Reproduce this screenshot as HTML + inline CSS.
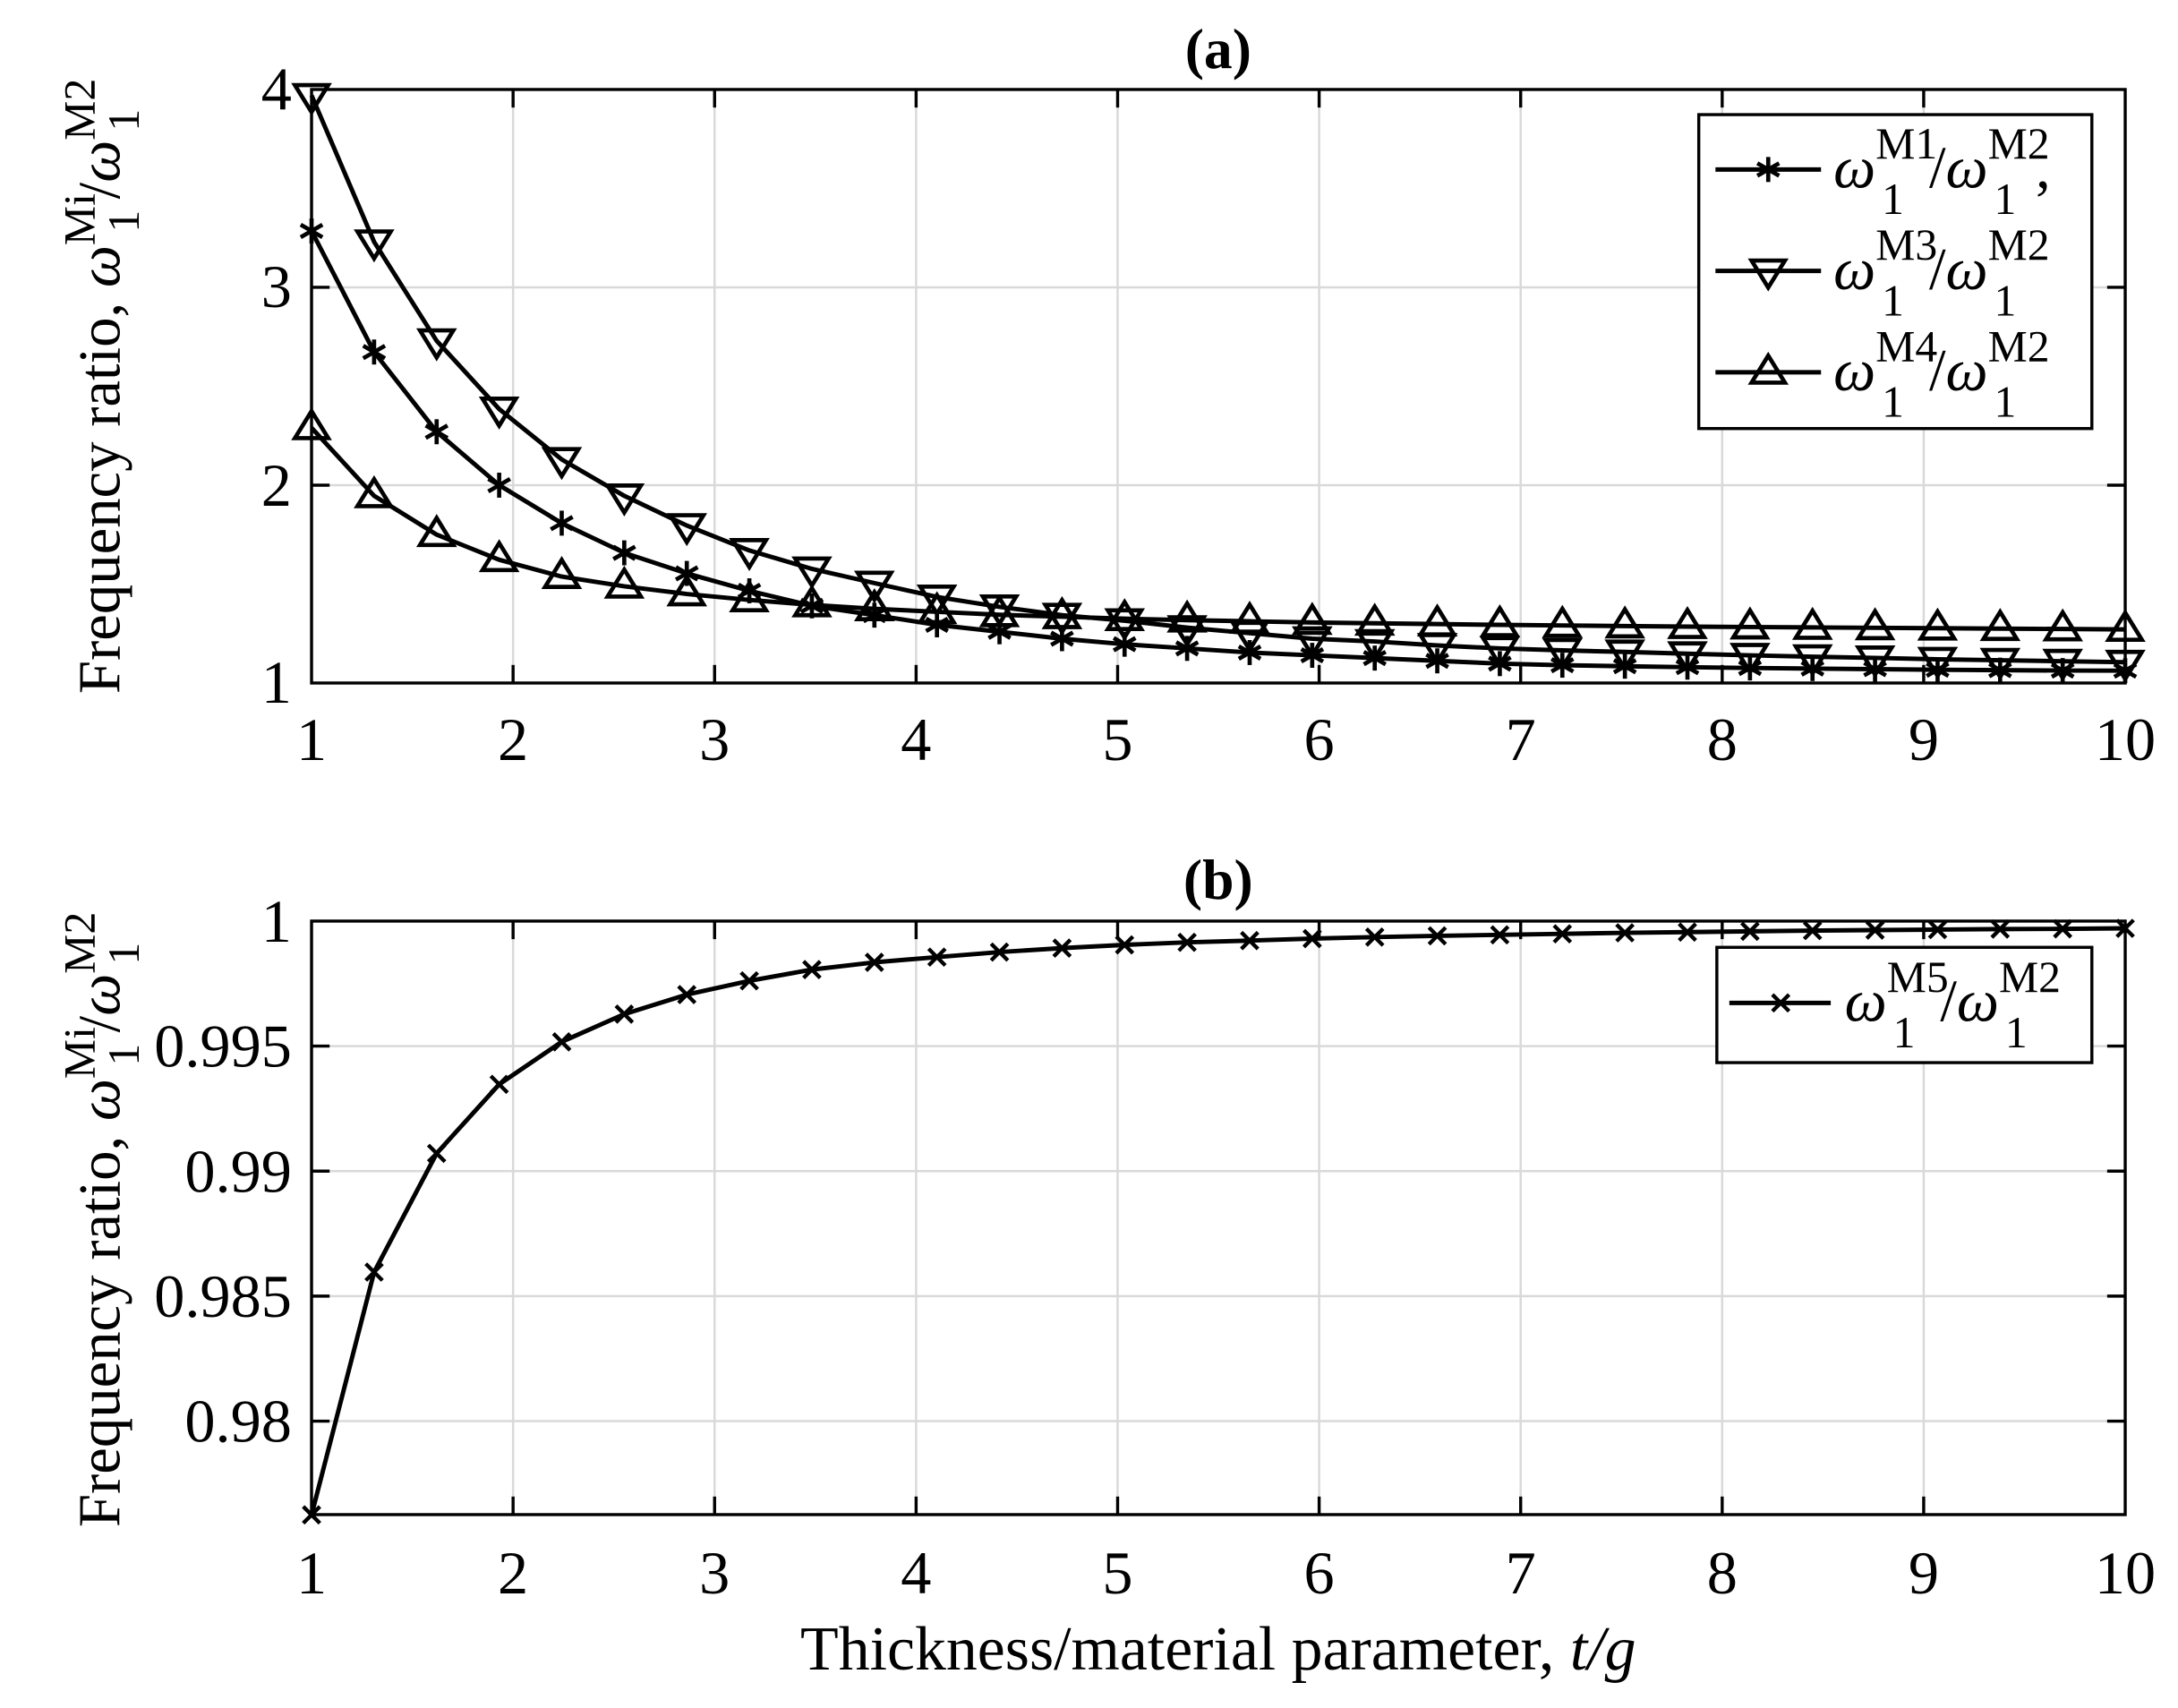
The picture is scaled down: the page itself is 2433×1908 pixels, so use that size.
<!DOCTYPE html>
<html><head><meta charset="utf-8"><style>
html,body{margin:0;padding:0;background:#fff;}
svg{display:block;}
text{font-family:"Liberation Serif",serif;fill:#000;}
</style></head><body>
<svg id="s" width="2433" height="1908" viewBox="0 0 1568 1229.6" xmlns="http://www.w3.org/2000/svg">
<g id="grid" stroke="#d9d9d9" stroke-width="1.6"></g>
<g id="axes" fill="none" stroke="#000" stroke-width="2.2"></g>
<g id="data"></g>
<text x="877" y="49" font-size="41" font-weight="bold" text-anchor="middle">(a)</text>
<text x="877" y="647" font-size="41" font-weight="bold" text-anchor="middle">(b)</text>
<g font-size="44" text-anchor="end">
<text x="210" y="79">4</text>
<text x="210" y="221">3</text>
<text x="210" y="364">2</text>
<text x="210" y="506">1</text>
<text x="210" y="678">1</text>
<text x="210" y="768">0.995</text>
<text x="210" y="858">0.99</text>
<text x="210" y="948">0.985</text>
<text x="210" y="1038">0.98</text>
</g>
<g id="xl" font-size="44" text-anchor="middle"></g>
<text x="877" y="1202" font-size="45" text-anchor="middle">Thickness/material parameter, <tspan font-style="italic">t/g</tspan></text>
<g transform="translate(86,278) rotate(-90)">
<text x="0" y="0" font-size="43" text-anchor="middle">Frequency ratio, <tspan font-style="italic">ω</tspan><tspan font-size="32" dy="-18">Mi</tspan><tspan font-size="32" dx="-28" dy="32">1</tspan><tspan dy="-14" dx="8">/</tspan><tspan font-style="italic">ω</tspan><tspan font-size="32" dy="-18">M2</tspan><tspan font-size="32" dx="-38" dy="32">1</tspan></text>
</g>
<g transform="translate(86,878) rotate(-90)">
<text x="0" y="0" font-size="43" text-anchor="middle">Frequency ratio, <tspan font-style="italic">ω</tspan><tspan font-size="32" dy="-18">Mi</tspan><tspan font-size="32" dx="-28" dy="32">1</tspan><tspan dy="-14" dx="8">/</tspan><tspan font-style="italic">ω</tspan><tspan font-size="32" dy="-18">M2</tspan><tspan font-size="32" dx="-38" dy="32">1</tspan></text>
</g>
<rect x="1223" y="82.5" width="283" height="226" fill="#fff" stroke="#000" stroke-width="2.2"/>
<rect x="1236" y="682" width="270" height="83" fill="#fff" stroke="#000" stroke-width="2.2"/>
<g id="leg"></g>
<g font-size="43">
<text x="1320" y="135"><tspan font-style="italic">ω</tspan><tspan font-size="32" dy="-21">M1</tspan><tspan font-size="32" dx="-40" dy="40">1</tspan><tspan dy="-19" dx="18">/</tspan><tspan font-style="italic">ω</tspan><tspan font-size="32" dy="-21">M2</tspan><tspan font-size="32" dx="-40" dy="40">1</tspan><tspan dy="-19" dx="14">,</tspan></text>
<text x="1320" y="208"><tspan font-style="italic">ω</tspan><tspan font-size="32" dy="-21">M3</tspan><tspan font-size="32" dx="-40" dy="40">1</tspan><tspan dy="-19" dx="18">/</tspan><tspan font-style="italic">ω</tspan><tspan font-size="32" dy="-21">M2</tspan><tspan font-size="32" dx="-40" dy="40">1</tspan></text>
<text x="1320" y="281"><tspan font-style="italic">ω</tspan><tspan font-size="32" dy="-21">M4</tspan><tspan font-size="32" dx="-40" dy="40">1</tspan><tspan dy="-19" dx="18">/</tspan><tspan font-style="italic">ω</tspan><tspan font-size="32" dy="-21">M2</tspan><tspan font-size="32" dx="-40" dy="40">1</tspan></text>
<text x="1328" y="735"><tspan font-style="italic">ω</tspan><tspan font-size="32" dy="-21">M5</tspan><tspan font-size="32" dx="-40" dy="40">1</tspan><tspan dy="-19" dx="18">/</tspan><tspan font-style="italic">ω</tspan><tspan font-size="32" dy="-21">M2</tspan><tspan font-size="32" dx="-40" dy="40">1</tspan></text>
</g>
</svg>
<script>
const NS="http://www.w3.org/2000/svg";
function el(p,t,a){const e=document.createElementNS(NS,t);for(const k in a)e.setAttribute(k,a[k]);p.appendChild(e);return e;}
const L=224.3,R=1530,A={t:64.4,b:491.7},B={t:663.1,b:1090.4};
const X=v=>L+(v-1)*(R-L)/9;
const ya=v=>A.b-(v-1)*(A.b-A.t)/3;
const yb=v=>B.t+(1-v)/0.005*90;
const grid=document.getElementById('grid'),axes=document.getElementById('axes'),data=document.getElementById('data'),xl=document.getElementById('xl');
for(let i=2;i<=9;i++){el(grid,'line',{x1:X(i),x2:X(i),y1:A.t,y2:A.b});el(grid,'line',{x1:X(i),x2:X(i),y1:B.t,y2:B.b});}
[2,3].forEach(v=>el(grid,'line',{x1:L,x2:R,y1:ya(v),y2:ya(v)}));
const ybt=[yb(0.995),yb(0.99),yb(0.985),yb(0.98)];
ybt.forEach(y=>el(grid,'line',{x1:L,x2:R,y1:y,y2:y}));
[A,B].forEach(P=>{el(axes,'rect',{x:L,y:P.t,width:R-L,height:P.b-P.t});
 for(let i=2;i<=9;i++){el(axes,'line',{x1:X(i),x2:X(i),y1:P.b,y2:P.b-13});el(axes,'line',{x1:X(i),x2:X(i),y1:P.t,y2:P.t+13});}
});
[2,3].forEach(v=>{el(axes,'line',{x1:L,x2:L+13,y1:ya(v),y2:ya(v)});el(axes,'line',{x1:R,x2:R-13,y1:ya(v),y2:ya(v)});});
ybt.forEach(y=>{el(axes,'line',{x1:L,x2:L+13,y1:y,y2:y});el(axes,'line',{x1:R,x2:R-13,y1:y,y2:y});});
for(let i=1;i<=10;i++){const a=el(xl,'text',{x:X(i),y:547});a.textContent=i;const b=el(xl,'text',{x:X(i),y:1147});b.textContent=i;}
const xs=[];for(let i=0;i<30;i++)xs.push(1+i*9/29);
const M1=[3.285,2.673,2.27,2.0,1.808,1.658,1.554,1.466,1.39,1.343,1.294,1.259,1.224,1.196,1.175,1.154,1.14,1.126,1.112,1.098,1.09,1.085,1.08,1.076,1.073,1.07,1.067,1.065,1.063,1.0625];
const M3=[3.97,3.23,2.73,2.385,2.13,1.946,1.796,1.67,1.577,1.505,1.435,1.385,1.343,1.315,1.28,1.252,1.224,1.21,1.19,1.175,1.165,1.157,1.148,1.14,1.133,1.127,1.12,1.115,1.11,1.105];
const M4=[2.29,1.946,1.75,1.623,1.538,1.489,1.45,1.42,1.395,1.375,1.36,1.345,1.335,1.325,1.318,1.312,1.306,1.302,1.298,1.294,1.291,1.288,1.285,1.283,1.281,1.279,1.277,1.275,1.273,1.271];
const M5=[0.97625,0.98596,0.99071,0.99347,0.99517,0.99628,0.99706,0.99761,0.99806,0.99835,0.99856,0.99876,0.99892,0.99905,0.99915,0.99922,0.99930,0.99936,0.99941,0.99945,0.99949,0.99953,0.99956,0.99959,0.99962,0.99964,0.99966,0.99968,0.99969,0.99971];
const SW=3.2;
function star(g,x,y){const r=9,S={stroke:'#000','stroke-width':3};
 el(g,'line',Object.assign({x1:x,x2:x,y1:y-r,y2:y+r},S));
 el(g,'line',Object.assign({x1:x-r*0.87,x2:x+r*0.87,y1:y-r*0.5,y2:y+r*0.5},S));
 el(g,'line',Object.assign({x1:x-r*0.87,x2:x+r*0.87,y1:y+r*0.5,y2:y-r*0.5},S));}
function tri(g,x,y,down){const r=12,s=down?-1:1;
 el(g,'polygon',{points:`${x},${y-s*r} ${x-r*1.0},${y+s*r*0.62} ${x+r*1.0},${y+s*r*0.62}`,fill:'none',stroke:'#000','stroke-width':3});}
function cross(g,x,y){const r=6,S={stroke:'#000','stroke-width':2.8};
 el(g,'line',Object.assign({x1:x-r,x2:x+r,y1:y-r,y2:y+r},S));el(g,'line',Object.assign({x1:x-r,x2:x+r,y1:y+r,y2:y-r},S));}
function series(vals,yf,mk){const pts=vals.map((v,i)=>[X(xs[i]),yf(v)]);
 el(data,'polyline',{points:pts.map(p=>p.join(',')).join(' '),fill:'none',stroke:'#000','stroke-width':SW,'stroke-linejoin':'round'});
 pts.forEach(p=>mk(data,p[0],p[1]));}
series(M4,ya,(g,x,y)=>tri(g,x,y,false));
series(M3,ya,(g,x,y)=>tri(g,x,y,true));
series(M1,ya,star);
series(M5,yb,cross);
const leg=document.getElementById('leg');
[[122,star],[195,(g,x,y)=>tri(g,x,y,true)],[268,(g,x,y)=>tri(g,x,y,false)]].forEach(([y,f])=>{
 el(leg,'line',{x1:1235,x2:1311,y1:y,y2:y,stroke:'#000','stroke-width':SW});f(leg,1273,y);});
el(leg,'line',{x1:1245,x2:1318,y1:722,y2:722,stroke:'#000','stroke-width':SW});cross(leg,1282,722);
</script>
</body></html>
